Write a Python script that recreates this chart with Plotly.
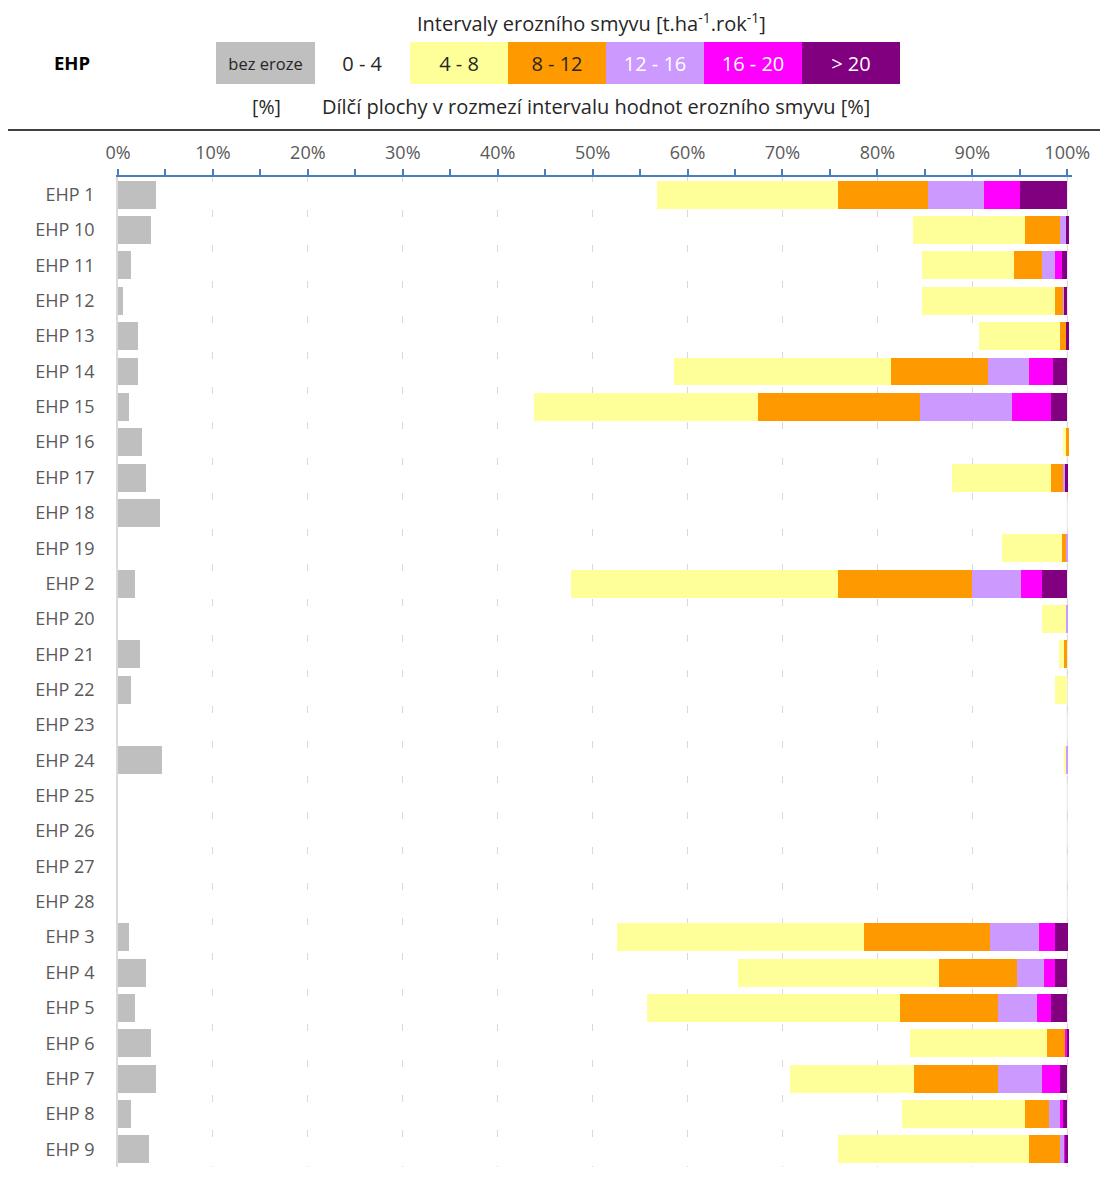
import plotly.graph_objects as go

# ---------------- data ----------------
categories = ["EHP 1", "EHP 10", "EHP 11", "EHP 12", "EHP 13", "EHP 14", "EHP 15",
              "EHP 16", "EHP 17", "EHP 18", "EHP 19", "EHP 2", "EHP 20", "EHP 21",
              "EHP 22", "EHP 23", "EHP 24", "EHP 25", "EHP 26", "EHP 27", "EHP 28",
              "EHP 3", "EHP 4", "EHP 5", "EHP 6", "EHP 7", "EHP 8", "EHP 9"]

series_names = ["bez eroze", "0 - 4", "4 - 8", "8 - 12", "12 - 16", "16 - 20", "> 20"]

bez_eroze = [4.0, 3.5, 1.4, 0.5, 2.1, 2.1, 1.2, 2.5, 2.9, 4.4, 0.0, 1.8, 0.0, 2.3,
             1.4, 0.0, 4.6, 0.0, 0.0, 0.0, 0.0, 1.2, 2.9, 1.8, 3.5, 4.0, 1.4, 3.3]
s_0_4 = [52.8, 80.3, 83.3, 84.2, 88.6, 56.5, 42.6, 97.1, 85.0, 95.6, 93.1, 45.9, 97.3, 96.8,
         97.3, 100.0, 95.1, 100.0, 100.0, 100.0, 100.0, 51.4, 62.4, 53.9, 79.9, 66.8, 81.2, 72.6]
s_4_8 = [19.0, 11.7, 9.7, 14.0, 8.5, 22.8, 23.6, 0.3, 10.4, 0.0, 6.3, 28.2, 2.6, 0.6,
         1.3, 0.0, 0.2, 0.0, 0.0, 0.0, 0.0, 26.0, 21.2, 26.7, 14.5, 13.1, 13.0, 20.1]
s_8_12 = [9.5, 3.7, 2.9, 0.9, 0.7, 10.3, 17.1, 0.3, 1.3, 0.0, 0.5, 14.1, 0.0, 0.3,
          0.0, 0.0, 0.0, 0.0, 0.0, 0.0, 0.0, 13.3, 8.2, 10.3, 1.9, 8.8, 2.5, 3.2]
s_12_16 = [5.9, 0.7, 1.4, 0.1, 0.0, 4.3, 9.7, 0.0, 0.2, 0.0, 0.2, 5.1, 0.2, 0.0,
           0.0, 0.0, 0.2, 0.0, 0.0, 0.0, 0.0, 5.1, 2.8, 4.1, 0.0, 4.6, 1.1, 0.5]
s_16_20 = [3.8, 0.0, 0.7, 0.0, 0.0, 2.5, 4.1, 0.0, 0.0, 0.0, 0.0, 2.2, 0.0, 0.0,
           0.0, 0.0, 0.0, 0.0, 0.0, 0.0, 0.0, 1.7, 1.2, 1.5, 0.2, 1.9, 0.3, 0.1]
s_gt_20 = [5.0, 0.3, 0.6, 0.3, 0.3, 1.5, 1.7, 0.0, 0.3, 0.0, 0.0, 2.7, 0.0, 0.0,
           0.0, 0.0, 0.0, 0.0, 0.0, 0.0, 0.0, 1.4, 1.3, 1.7, 0.2, 0.8, 0.5, 0.3]

x_tick_values = [0, 10, 20, 30, 40, 50, 60, 70, 80, 90, 100]
x_tick_labels = ["0%", "10%", "20%", "30%", "40%", "50%", "60%", "70%", "80%", "90%", "100%"]

header_title = "Intervaly erozního smyvu [t.ha<sup>-1</sup>.rok<sup>-1</sup>]"
header_sub = "Dílčí plochy v rozmezí intervalu hodnot erozního smyvu [%]"

# ---------------- styling ----------------
colors = ["#BFBFBF", "rgba(255,255,255,0)", "#FFFF99", "#FF9900", "#CC99FF", "#FF00FF", "#800080"]
box_colors = ["#BFBFBF", "#FFFFFF", "#FFFF99", "#FF9900", "#CC99FF", "#FF00FF", "#800080"]
box_text_colors = ["#262626", "#262626", "#262626", "#262626", "#FFFFFF", "#FFFFFF", "#FFFFFF"]
FONT = "Open Sans"

OFF = 8                      # page body margin
W, H = 1108 - OFF, 1180 - OFF
X_MAX = 100.5
PLOT_L_REF, PLOT_100_REF = 118, 1067    # reference pixel x of 0% and 100%
PLOT_T_REF, PLOT_B_REF = 177, 1167
L = PLOT_L_REF - OFF
PW = (PLOT_100_REF - PLOT_L_REF) * X_MAX / 100
R = W - L - PW
T = PLOT_T_REF - OFF
B = H - (PLOT_B_REF - OFF)
PH = H - T - B


def px(x):
    return (x - OFF - L) / PW


def py(y):
    return (H - B - (y - OFF)) / PH


series = [bez_eroze, s_0_4, s_4_8, s_8_12, s_12_16, s_16_20, s_gt_20]

fig = go.Figure()
for name, vals, col in zip(series_names, series, colors):
    fig.add_trace(go.Bar(
        y=categories, x=vals, name=name, orientation="h",
        marker=dict(color=col, line=dict(width=0)),
        showlegend=False,
    ))

fig.update_layout(
    width=W, height=H,
    margin=dict(l=L, r=R, t=T, b=B, autoexpand=False),
    barmode="stack", bargap=0.21,
    plot_bgcolor="white", paper_bgcolor="white",
    font=dict(family=FONT, size=17, color="#595959"),
)

fig.update_xaxes(
    side="top", range=[0, X_MAX], tickvals=x_tick_values, ticktext=x_tick_labels,
    showline=True, linecolor="#4a7ebb", linewidth=1.5,
    ticks="outside", ticklen=6, tickcolor="#4a7ebb", tickwidth=1.5,
    minor=dict(dtick=5, ticks="outside", ticklen=6, tickcolor="#4a7ebb", tickwidth=1.5, showgrid=False),
    showgrid=True, gridcolor="#d9d9d9", gridwidth=1, griddash="4.6px,28.4px,2.4px,0px",
    zeroline=False, tickfont=dict(size=18, color="#595959"), ticklabelstandoff=3,
    fixedrange=True,
)
fig.update_yaxes(
    autorange="reversed", showline=True, linecolor="#d9d9d9", linewidth=1.5,
    ticks="", ticklabelstandoff=18, tickfont=dict(size=18, color="#595959"),
    showgrid=False, fixedrange=True,
)

# ---------------- header ----------------
ann = []
ann.append(dict(text=header_title, x=px(591), y=py(22), xref="paper", yref="paper",
                showarrow=False, font=dict(size=20, color="#262626"), xanchor="center", yanchor="middle"))
ann.append(dict(text="<b>EHP</b>", x=px(72), y=py(63), xref="paper", yref="paper",
                showarrow=False, font=dict(size=18.5, color="#000000"), xanchor="center", yanchor="middle"))
ann.append(dict(text="[%]", x=px(266), y=py(107), xref="paper", yref="paper",
                showarrow=False, font=dict(size=19.5, color="#262626"), xanchor="center", yanchor="middle"))
ann.append(dict(text=header_sub, x=px(596), y=py(107), xref="paper", yref="paper",
                showarrow=False, font=dict(size=20, color="#262626"), xanchor="center", yanchor="middle"))

box_lefts = [216, 315, 410, 508, 606, 704, 802]
box_widths = [99, 95, 98, 98, 98, 98, 98]
for i, name in enumerate(series_names):
    cx = box_lefts[i] + box_widths[i] / 2
    ann.append(dict(text=name, x=px(cx), y=py(63), xref="paper", yref="paper",
                    showarrow=False, width=box_widths[i], height=42, bgcolor=box_colors[i],
                    borderpad=0, borderwidth=0, align="center", valign="middle",
                    font=dict(size=16.5 if i == 0 else 20, color=box_text_colors[i]),
                    xanchor="center", yanchor="middle"))
fig.update_layout(annotations=ann)

fig.add_shape(type="line", xref="paper", yref="paper", x0=px(8), x1=px(1108), y0=py(130), y1=py(130),
              line=dict(color="#404040", width=2))
fig.add_shape(type="line", xref="x", yref="paper", x0=100, x1=100, y0=0, y1=1,
              line=dict(color="#e3e3e3", width=1), layer="below")

fig.write_html("out.html")
